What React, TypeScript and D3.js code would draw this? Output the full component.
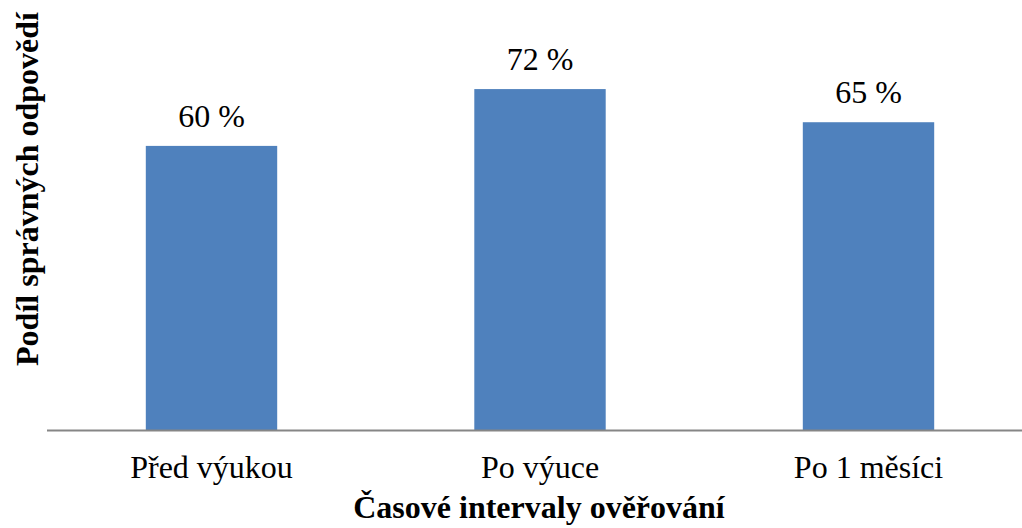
import React, { useRef, useEffect } from 'react';
import * as d3 from 'd3';

const categories = ['Před výukou', 'Po výuce', 'Po 1 měsíci'];
const values = [60, 72, 65];
const xTitle = 'Časové intervaly ověřování';
const yTitle = 'Podíl správných odpovědí';

const App = () => {
  const svgRef = useRef<SVGSVGElement>(null);

  useEffect(() => {
    const width = 1022;
    const height = 528;
    const baseY = 430;
    const font = '"Liberation Serif", "Times New Roman", serif';

    const svg = d3.select(svgRef.current).attr('width', width).attr('height', height);
    svg.selectAll('*').remove();

    const x = d3
      .scaleBand<string>()
      .domain(categories)
      .range([47.25, 1032.75])
      .paddingInner(0.6)
      .paddingOuter(0.3);

    const y = d3.scaleLinear().domain([0, 80]).range([baseY, baseY - 4.735 * 80]);

    // bars
    svg
      .append('g')
      .selectAll('rect')
      .data(values)
      .enter()
      .append('rect')
      .attr('x', (d, i) => x(categories[i]) as number)
      .attr('y', (d) => y(d))
      .attr('width', x.bandwidth())
      .attr('height', (d) => baseY - y(d))
      .attr('fill', '#4F81BD');

    // value labels
    svg
      .append('g')
      .selectAll('text')
      .data(values)
      .enter()
      .append('text')
      .attr('x', (d, i) => (x(categories[i]) as number) + x.bandwidth() / 2)
      .attr('y', (d) => y(d) - 19)
      .attr('text-anchor', 'middle')
      .attr('font-family', font)
      .attr('font-size', 32)
      .attr('fill', '#000')
      .text((d) => `${d} %`);

    // x axis line
    svg
      .append('line')
      .attr('x1', 47)
      .attr('x2', width)
      .attr('y1', baseY + 0.5)
      .attr('y2', baseY + 0.5)
      .attr('stroke', '#868686')
      .attr('stroke-width', 2);

    // category labels
    svg
      .append('g')
      .selectAll('text')
      .data(categories)
      .enter()
      .append('text')
      .attr('x', (d) => (x(d) as number) + x.bandwidth() / 2)
      .attr('y', 478)
      .attr('text-anchor', 'middle')
      .attr('font-family', font)
      .attr('font-size', 32)
      .attr('fill', '#000')
      .text((d) => d);

    // axis titles
    svg
      .append('text')
      .attr('x', 539)
      .attr('y', 518)
      .attr('text-anchor', 'middle')
      .attr('font-family', font)
      .attr('font-size', 32)
      .attr('font-weight', 'bold')
      .text(xTitle);

    svg
      .append('text')
      .attr('transform', 'translate(38,189) rotate(-90)')
      .attr('text-anchor', 'middle')
      .attr('font-family', font)
      .attr('font-size', 32)
      .attr('font-weight', 'bold')
      .text(yTitle);
  }, []);

  return <svg ref={svgRef} style={{ position: 'absolute', left: 0, top: 0 }} />;
};

export default App;
